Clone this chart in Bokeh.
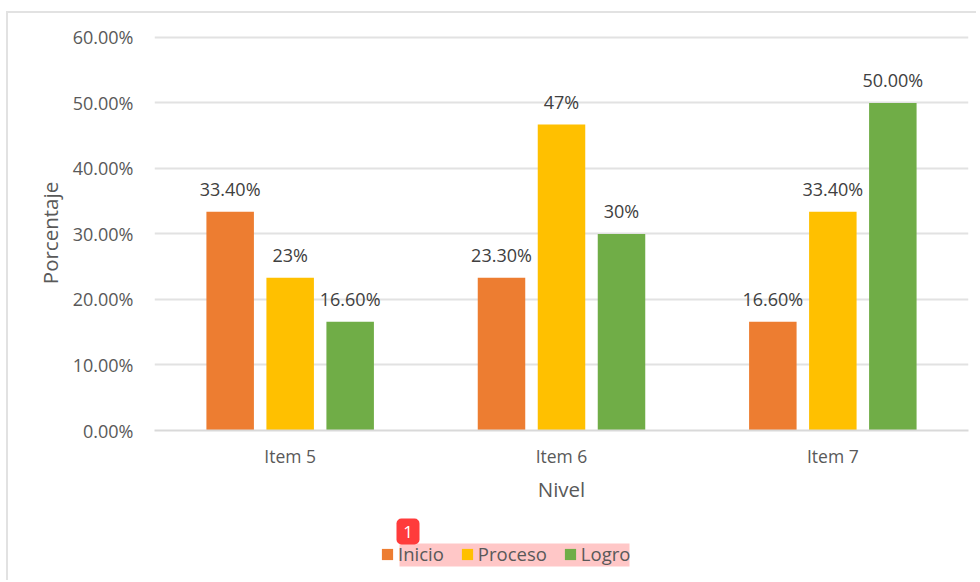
from bokeh.plotting import figure
from bokeh.embed import file_html
from bokeh.resources import INLINE
from bokeh.core.properties import value
from bokeh.layouts import column
from bokeh.models import (ColumnDataSource, NumeralTickFormatter, Legend, LegendItem,
                          BoxAnnotation, Label, FixedTicker, LabelSet)
from bokeh.transform import dodge

items = ["Item 5", "Item 6", "Item 7"]
inicio = [0.334, 0.233, 0.166]
proceso = [0.233, 0.467, 0.334]
logro = [0.166, 0.300, 0.500]
inicio_labels = ["33.40%", "23.30%", "16.60%"]
proceso_labels = ["23%", "47%", "33.40%"]
logro_labels = ["16.60%", "30%", "50.00%"]
series_names = ["Inicio", "Proceso", "Logro"]
colors = ["#ED7D31", "#FFC000", "#70AD47"]
y_ticks = [0, 0.1, 0.2, 0.3, 0.4, 0.5, 0.6]

FONT = "Open Sans"
TXT = "#595959"
W = 968

p = figure(width=W, height=499, x_range=items, y_range=(0, 0.603),
           output_backend="svg", toolbar_location=None,
           min_border_left=146, min_border_right=8, min_border_top=22, min_border_bottom=82)
p.outline_line_color = None
p.xgrid.grid_line_color = None
p.ygrid.grid_line_color = "#E2E2E2"
p.ygrid.grid_line_width = 2
p.x_range.range_padding = 0

p.yaxis.ticker = FixedTicker(ticks=y_ticks)
p.yaxis.formatter = NumeralTickFormatter(format="0.00%")
p.yaxis.axis_line_color = None
p.yaxis.major_tick_line_color = None
p.yaxis.minor_tick_line_color = None
p.yaxis.major_label_text_font = FONT
p.yaxis.major_label_text_font_size = "18px"
p.yaxis.major_label_text_color = TXT
p.yaxis.major_label_standoff = 15
p.yaxis.axis_label = "Porcentaje"
p.yaxis.axis_label_text_font = FONT
p.yaxis.axis_label_text_font_size = "20.5px"
p.yaxis.axis_label_text_font_style = "normal"
p.yaxis.axis_label_text_color = TXT
p.yaxis.axis_label_standoff = 6

p.xaxis.axis_line_color = "#D9D9D9"
p.xaxis.axis_line_width = 2
p.xaxis.major_tick_line_color = None
p.xaxis.minor_tick_line_color = None
p.xaxis.major_label_text_font = FONT
p.xaxis.major_label_text_font_size = "17.5px"
p.xaxis.major_label_text_color = TXT
p.xaxis.major_label_standoff = 7
p.xaxis.axis_label = "Nivel"
p.xaxis.axis_label_text_font = FONT
p.xaxis.axis_label_text_font_size = "20.5px"
p.xaxis.axis_label_text_font_style = "normal"
p.xaxis.axis_label_text_color = TXT
p.xaxis.axis_label_standoff = 4

source = ColumnDataSource(dict(item=items, Inicio=inicio, Proceso=proceso, Logro=logro,
                               l0=inicio_labels, l1=proceso_labels, l2=logro_labels))
step = 60 / 271.33
bar = 47.5 / 271.33
for i, (name, color) in enumerate(zip(series_names, colors)):
    x = dodge("item", (i - 1) * step, range=p.x_range)
    p.vbar(x=x, top=name, width=bar, bottom=0, source=source, color=color, line_color=None)
    p.add_layout(LabelSet(x=x, y=name, text=f"l{i}", source=source, y_offset=11,
                          text_align="center", text_font=value(FONT), text_font_size=value("18px"),
                          text_color="#404040"))

# legend strip below the chart (its frame lines up with the chart's frame)
q = figure(width=W, height=68, x_range=(0, 1), y_range=(0, 1), output_backend="svg",
           toolbar_location=None, min_border=0, min_border_left=146, min_border_right=8)
q.axis.visible = False
q.grid.visible = False
q.outline_line_color = None
keys = [q.vbar(x=[-5], top=[-5], width=1, color=c, line_color=None) for c in colors]
legend = Legend(items=[LegendItem(label=n, renderers=[r]) for n, r in zip(series_names, keys)],
                orientation="horizontal", location=(226, 14), border_line_color=None,
                background_fill_alpha=0, label_text_font=FONT, label_text_font_size="18.5px",
                label_text_color=TXT, glyph_width=14, glyph_height=14, spacing=16,
                label_standoff=4, padding=0, margin=0)
q.add_layout(legend, "center")


def box(left, right, bottom, top, **kw):
    q.add_layout(BoxAnnotation(left=left, right=right, bottom=bottom, top=top, left_units="screen",
                               right_units="screen", top_units="screen", bottom_units="screen",
                               line_color=None, level="overlay", **kw))


box(245, 475, 14, 37, fill_color="#FF0000", fill_alpha=0.22)
box(242, 265, 36, 62, fill_color="#FF3B3B", fill_alpha=1, border_radius=5)
q.add_layout(Label(x=253.5, y=49, x_units="screen", y_units="screen", text="1",
                   text_align="center", text_baseline="middle", text_color="white",
                   text_font=FONT, text_font_size="17px", level="overlay"))

page = column(p, q, spacing=0, margin=(11, 0, 0, 6),
              styles={"border-left": "2px solid #E2E2E2", "border-top": "2px solid #E2E2E2"})

open("out.html", "w").write(file_html(page, INLINE))
